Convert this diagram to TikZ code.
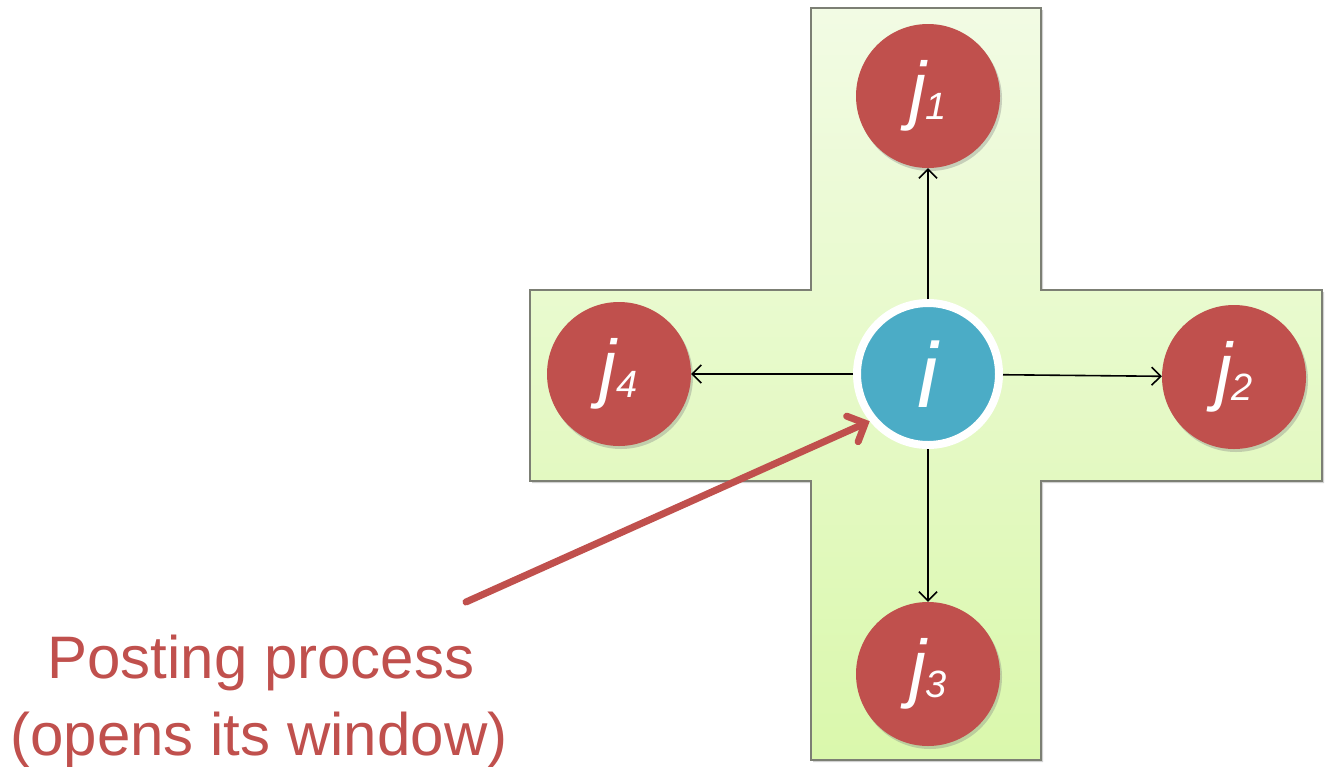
\documentclass[tikz,border=0pt]{standalone}
\usepackage{fontspec}
\setmainfont{Liberation Sans}
\usetikzlibrary{arrows.meta,shadows}
\definecolor{nodered}{HTML}{C0504D}
\definecolor{nodeblue}{HTML}{4BACC6}
\definecolor{crosstop}{HTML}{F2FBE4}
\definecolor{crossbot}{HTML}{DAF8AC}
\definecolor{crossline}{HTML}{7C7F74}
\tikzset{
  jnode/.style={circle, fill=nodered, minimum size=144pt, inner sep=0pt, text=white,
    drop shadow={opacity=0.35, shadow xshift=2pt, shadow yshift=-3pt},
    font=\fontsize{76}{76}\selectfont\itshape},
  inode/.style={circle, fill=nodeblue, draw=white, line width=8pt, minimum size=142pt, inner sep=0pt, text=white,
    drop shadow={opacity=0.35, shadow xshift=2pt, shadow yshift=-3pt},
    font=\fontsize{92}{92}\selectfont\itshape},
  link/.style={-{Straight Barb[length=9pt,width=18pt]}, line width=1.6pt, black},
  pointer/.style={-{Straight Barb[length=14pt,width=28pt,line cap=round]}, line width=7pt, nodered, line cap=round},
  caption/.style={text=nodered, font=\fontsize{60}{72}\selectfont, anchor=base, inner sep=0pt}
}
\newcommand{\jsub}[1]{\textit{j}\raisebox{-4pt}{\fontsize{38}{38}\selectfont\itshape #1}}
\begin{document}
\begin{tikzpicture}[x=1pt,y=-1pt]
\useasboundingbox (0,0) rectangle (1325,766);
% cross shadow
\fill[black, opacity=0.18] (813,10) -- (1043,10) -- (1043,292) -- (1324,292) -- (1324,483) -- (1043,483) -- (1043,762) -- (813,762) -- (813,483) -- (532,483) -- (532,292) -- (813,292) -- cycle;
% cross
\shade[top color=crosstop, bottom color=crossbot] (811,8) -- (1041,8) -- (1041,290) -- (1322,290) -- (1322,481) -- (1041,481) -- (1041,760) -- (811,760) -- (811,481) -- (530,481) -- (530,290) -- (811,290) -- cycle;
\draw[crossline, line width=2pt] (811,8) -- (1041,8) -- (1041,290) -- (1322,290) -- (1322,481) -- (1041,481) -- (1041,760) -- (811,760) -- (811,481) -- (530,481) -- (530,290) -- (811,290) -- cycle;
% nodes
\node[inode] (i) at (928,374) {i};
\node[jnode] (j1) at (928,96) {\jsub{1}};
\node[jnode] (j2) at (1234,377) {\jsub{2}};
\node[jnode] (j3) at (928,674) {\jsub{3}};
\node[jnode] (j4) at (619,374) {\jsub{4}};
% links
\draw[link] (i) -- (j1);
\draw[link] (i) -- (j2);
\draw[link] (i) -- (j3);
\draw[link] (i) -- (j4);
% pointer
\coordinate (ps) at (466,602);
\draw[pointer] (ps) -- (i.219);
% caption
\node[caption] (cap1) at (261,678) {Posting process};
\node[caption] (cap2) at (259,755) {(opens its window)};
\end{tikzpicture}
\end{document}
